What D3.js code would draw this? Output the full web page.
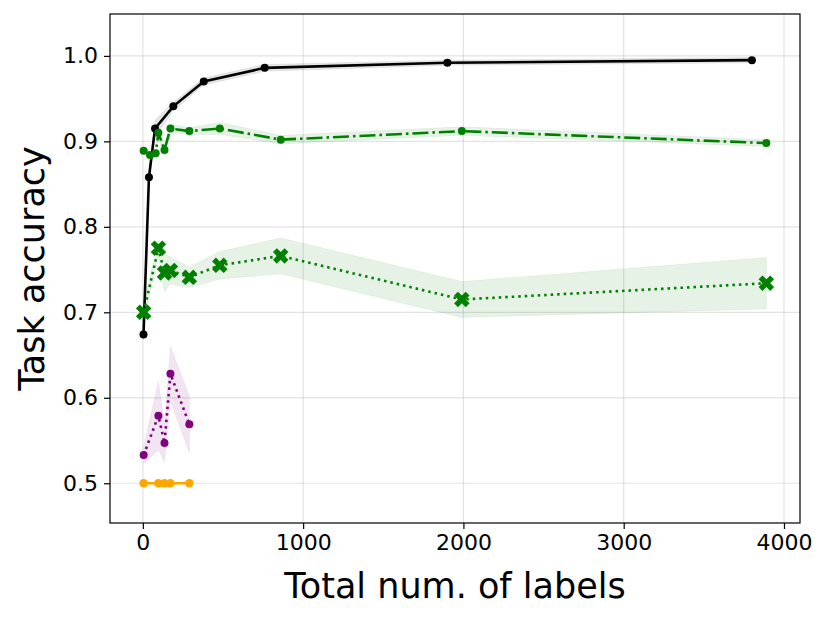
<!DOCTYPE html>
<html>
<head>
<meta charset="utf-8">
<script src="https://cdn.jsdelivr.net/npm/d3@7"></script>
<style>
  body { margin: 0; background: #fff; }
  svg text { font-family: "DejaVu Sans", sans-serif; }
</style>
</head>
<body>
<svg id="chart" width="831" height="620"></svg>
<script>
// full supervision (black)
var fullX = [4, 38, 76, 190, 380, 760, 1900, 3800];
var fullY = [0.674, 0.858, 0.915, 0.941, 0.970, 0.986, 0.992, 0.995];
var fullErr = [0.006, 0.005, 0.010, 0.005, 0.004, 0.004, 0.003, 0.003];

// green dash-dot, circles
var gaX = [5, 45, 80, 97, 135, 172, 290, 480, 860, 1990, 3890];
var gaY = [0.889, 0.884, 0.886, 0.910, 0.890, 0.915, 0.912, 0.915, 0.902, 0.912, 0.898];
var gaErr = [0.004, 0.004, 0.004, 0.008, 0.006, 0.005, 0.004, 0.007, 0.005, 0.005, 0.004];

// green dotted, X markers
var gbX = [5, 97, 135, 172, 290, 480, 860, 1990, 3890];
var gbY = [0.700, 0.775, 0.746, 0.749, 0.741, 0.755, 0.766, 0.715, 0.734];
var gbErr = [0.010, 0.010, 0.022, 0.016, 0.012, 0.016, 0.021, 0.021, 0.030];

// purple dotted
var puX = [5, 97, 135, 172, 290];
var puY = [0.533, 0.579, 0.547, 0.628, 0.569];
var puErr = [0.010, 0.040, 0.022, 0.032, 0.033];

// orange baseline
var orX = [5, 97, 135, 172, 290];
var orY = [0.500, 0.500, 0.500, 0.500, 0.500];

var xTicks = [0, 1000, 2000, 3000, 4000];
var yTicks = [0.5, 0.6, 0.7, 0.8, 0.9, 1.0];

var svg = d3.select("#chart");
var pLeft = 110, pRight = 800, pTop = 14, pBottom = 523;

var x = d3.scaleLinear().domain([-205, 4100]).range([pLeft, pRight]);
var y = d3.scaleLinear().domain([0.4535, 1.049]).range([pBottom, pTop]);

// grid
svg.append("g").selectAll("line").data(xTicks).enter().append("line")
    .attr("x1", function (d) { return x(d); }).attr("x2", function (d) { return x(d); })
    .attr("y1", pTop).attr("y2", pBottom)
    .attr("stroke", "#b0b0b0").attr("stroke-opacity", 0.35).attr("stroke-width", 1.2);
svg.append("g").selectAll("line").data(yTicks).enter().append("line")
    .attr("y1", function (d) { return y(d); }).attr("y2", function (d) { return y(d); })
    .attr("x1", pLeft).attr("x2", pRight)
    .attr("stroke", "#b0b0b0").attr("stroke-opacity", 0.35).attr("stroke-width", 1.2);

function zip(xs, ys, es) {
    return xs.map(function (v, i) { return { x: v, y: ys[i], e: es ? es[i] : 0 }; });
}

var series = [
    { pts: zip(fullX, fullY, fullErr), color: "black", dash: null, marker: "circle", r: 4 },
    { pts: zip(gaX, gaY, gaErr), color: "green", dash: "16,4,2.5,4", marker: "circle", r: 4 },
    { pts: zip(gbX, gbY, gbErr), color: "green", dash: "2.5,4", marker: "x", r: 0 },
    { pts: zip(puX, puY, puErr), color: "purple", dash: "2.5,4", marker: "circle", r: 4 },
    { pts: zip(orX, orY, null), color: "orange", dash: null, marker: "circle", r: 4.3 }
];

var area = d3.area()
    .x(function (d) { return x(d.x); })
    .y0(function (d) { return y(d.y - d.e); })
    .y1(function (d) { return y(d.y + d.e); });

var line = d3.line()
    .x(function (d) { return x(d.x); })
    .y(function (d) { return y(d.y); });

series.forEach(function (s) {
    svg.append("path").datum(s.pts)
        .attr("d", area)
        .attr("fill", s.color).attr("fill-opacity", 0.1)
        .attr("stroke", s.color).attr("stroke-opacity", 0.06);
});

series.forEach(function (s) {
    svg.append("path").datum(s.pts)
        .attr("d", line)
        .attr("fill", "none")
        .attr("stroke", s.color)
        .attr("stroke-width", 2.6)
        .attr("stroke-dasharray", s.dash);

    if (s.marker === "circle") {
        svg.append("g").selectAll("circle").data(s.pts).enter().append("circle")
            .attr("cx", function (d) { return x(d.x); })
            .attr("cy", function (d) { return y(d.y); })
            .attr("r", s.r)
            .attr("fill", s.color);
    } else {
        svg.append("g").selectAll("path").data(s.pts).enter().append("path")
            .attr("d", d3.symbol().type(d3.symbolCross).size(150))
            .attr("transform", function (d) {
                return "translate(" + x(d.x) + "," + y(d.y) + ") rotate(45)";
            })
            .attr("fill", s.color);
    }
});

// frame
svg.append("rect")
    .attr("x", pLeft).attr("y", pTop)
    .attr("width", pRight - pLeft).attr("height", pBottom - pTop)
    .attr("fill", "none").attr("stroke", "black").attr("stroke-width", 1.2);

var xAxis = svg.append("g")
    .attr("transform", "translate(0," + pBottom + ")")
    .call(d3.axisBottom(x).tickValues(xTicks).tickSize(6).tickPadding(5).tickFormat(d3.format("d")));
xAxis.select(".domain").remove();
xAxis.selectAll("line").attr("stroke-width", 1.2);
xAxis.selectAll("text").attr("font-size", 22).attr("fill", "black")
    .attr("font-family", "DejaVu Sans");

var yAxis = svg.append("g")
    .attr("transform", "translate(" + pLeft + ",0)")
    .call(d3.axisLeft(y).tickValues(yTicks).tickSize(6).tickPadding(6).tickFormat(d3.format(".1f")));
yAxis.select(".domain").remove();
yAxis.selectAll("line").attr("stroke-width", 1.2);
yAxis.selectAll("text").attr("font-size", 22).attr("fill", "black")
    .attr("font-family", "DejaVu Sans");

svg.append("text")
    .attr("x", (pLeft + pRight) / 2).attr("y", 598)
    .attr("text-anchor", "middle")
    .attr("font-size", 35)
    .text("Total num. of labels");

svg.append("text")
    .attr("transform", "translate(44," + (pTop + pBottom) / 2 + ") rotate(-90)")
    .attr("text-anchor", "middle")
    .attr("font-size", 35)
    .text("Task accuracy");
</script>
</body>
</html>
